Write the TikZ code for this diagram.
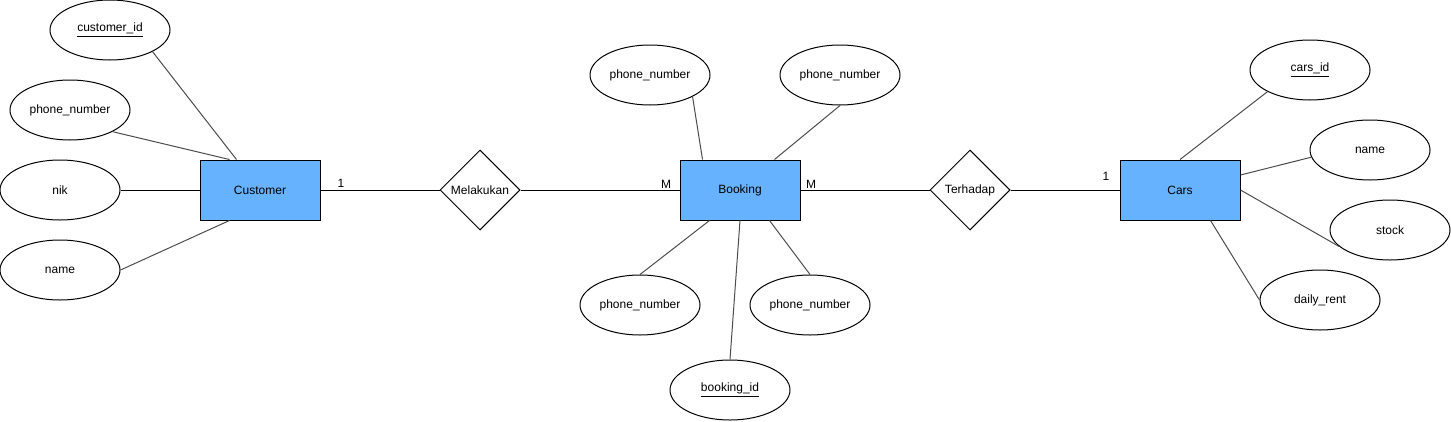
\documentclass[tikz,border=0pt]{standalone}
\usepackage{fontspec}
\setmainfont{Liberation Sans}
\usetikzlibrary{shapes.geometric}
\definecolor{entblue}{HTML}{66B2FF}
\begin{document}
\begin{tikzpicture}[x=0.75pt,y=-0.75pt,
  every node/.style={font=\fontsize{9pt}{11pt}\selectfont},
  attr/.style={ellipse,draw=black,line width=0.75pt,fill=white,minimum width=90pt,minimum height=45pt,inner sep=0pt},
  entity/.style={rectangle,draw=black,line width=0.75pt,fill=entblue,minimum width=90pt,minimum height=45pt,inner sep=0pt},
  rel/.style={diamond,draw=black,line width=0.75pt,fill=white,minimum width=60pt,minimum height=60pt,inner sep=0pt,aspect=1},
  link/.style={draw=black!70,line width=0.75pt},
  rlink/.style={draw=black,line width=0.75pt},
  card/.style={inner sep=0pt}]
\useasboundingbox (0,0) rectangle (1451,421);
% entities
\node[entity] (cust) at (260,190) {Customer};
\node[entity] (book) at (740,190) {Booking};
\node[entity] (carsE) at (1180,190) {Cars};
% relationships
\node[rel] (mel) at (480,190) {Melakukan};
\node[rel] (ter) at (970,190) {Terhadap};
% customer attributes
\node[attr] (cid) at (110,30) {\underline{customer\_id}};
\node[attr] (cph) at (70,110) {phone\_number};
\node[attr] (cnik) at (60,190) {nik};
\node[attr] (cname) at (60,270) {name};
% booking attributes
\node[attr] (bt1) at (650,75) {phone\_number};
\node[attr] (bt2) at (840,75) {phone\_number};
\node[attr] (bb1) at (640,305) {phone\_number};
\node[attr] (bb2) at (810,305) {phone\_number};
\node[attr] (bid) at (730,390) {\underline{booking\_id}};
% cars attributes
\node[attr] (carid) at (1310,70) {\underline{cars\_id}};
\node[attr] (carn) at (1370,150) {name};
\node[attr] (cstock) at (1390,230) {stock};
\node[attr] (crent) at (1320,300) {daily\_rent};
% attribute links
\draw[link] (cid.-27) -- ([xshift=27.75pt]cust.north west);
\draw[link] (cph.-27) -- ([xshift=22.5pt]cust.north west);
\draw[rlink] (cnik.east) -- (cust.west);
\draw[link] (cname.east) -- ([xshift=22.5pt]cust.south west);
\draw[link] (bt1.-27) -- ([xshift=17.25pt]book.north west);
\draw[link] (bt2.south) -- ([xshift=71.25pt]book.north west);
\draw[link] (bb1.north) -- ([xshift=22.5pt]book.south west);
\draw[link] (bb2.north) -- ([xshift=67.5pt]book.south west);
\draw[link] (bid.north) -- (book.south);
\draw[link] (carid.207) -- (carsE.north);
\draw[link] (carn.187.6) -- ([yshift=11.25pt]carsE.east);
\draw[link] (cstock.198.8) -- (carsE.east);
\draw[link] (crent.west) -- ([xshift=-22.5pt]carsE.south east);
% relationship links
\draw[rlink] (cust.east) -- (mel.west);
\draw[rlink] (mel.east) -- (book.west);
\draw[rlink] (book.east) -- (ter.west);
\draw[rlink] (ter.east) -- (carsE.west);
% cardinalities
\node[card] (c1) at (341,183) {1};
\node[card] (c2) at (666,184) {M};
\node[card] (c3) at (811,184) {M};
\node[card] (c4) at (1106,176) {1};
\end{tikzpicture}
\end{document}
